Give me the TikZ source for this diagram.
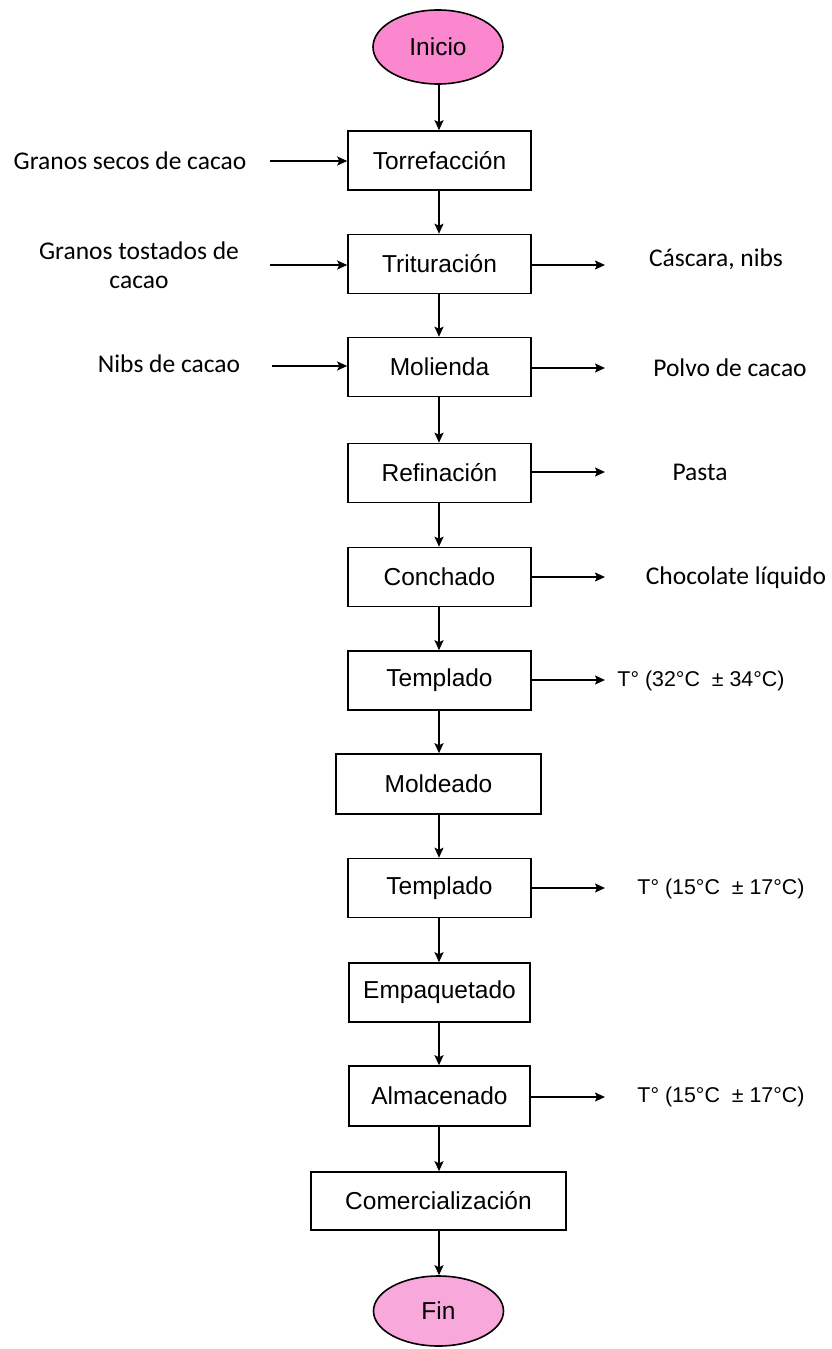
\documentclass[tikz,border=0pt]{standalone}
\usepackage{fontspec}
\setmainfont{Liberation Sans}
\newfontfamily\notefont{Carlito}
\usetikzlibrary{shapes.geometric,arrows.meta}
\definecolor{startpink}{RGB}{251,136,206}
\definecolor{endpink}{RGB}{249,168,220}
\tikzset{
  stepbox/.style={draw, line width=1.6pt, minimum width=183pt, minimum height=59pt,
    inner sep=0pt, font=\fontsize{24.5}{28}\selectfont},
  terminal/.style={ellipse, draw, line width=1.6pt, minimum width=130pt, minimum height=74pt,
    inner sep=0pt, font=\fontsize{24.5}{28}\selectfont},
  note/.style={inner sep=0pt, align=center, font=\notefont\fontsize{25.5}{29}\selectfont},
  temp/.style={inner sep=0pt, font=\fontsize{21.4}{25}\selectfont},
  flow/.style={line width=1.6pt, -{Stealth[length=10pt,width=9pt,inset=2pt]}}
}
\begin{document}
\begin{tikzpicture}[x=1pt,y=-1pt]
  \useasboundingbox (0,0) rectangle (832,1349);

  % main process chain
  \node[terminal, fill=startpink] (ini) at (438,47) {Inicio};
  \node[stepbox] (torr) at (439.5,160.5) {Torrefacción};
  \node[stepbox] (trit) at (439.5,264) {Trituración};
  \node[stepbox] (mol)  at (439.5,367) {Molienda};
  \node[stepbox] (ref)  at (439.5,473) {Refinación};
  \node[stepbox] (con)  at (439.5,577) {Conchado};
  \node[stepbox] (tem1) at (439.5,680.5) {Templado};
  \node[stepbox, minimum width=205pt, minimum height=60pt] (mold) at (438.5,784) {Moldeado};
  \node[stepbox] (tem2) at (439.5,888) {Templado};
  \node[stepbox, minimum width=181pt] (emp) at (439.5,992.5) {Empaquetado};
  \node[stepbox, minimum width=181pt, minimum height=60pt] (alm) at (439.5,1096) {Almacenado};
  \node[stepbox, minimum width=255pt, minimum height=58pt] (com) at (438.5,1201) {Comercialización};
  \node[terminal, fill=endpink, minimum height=70pt] (fin) at (438.5,1311) {Fin};

  \foreach \a/\b in {ini/torr, torr/trit, trit/mol, mol/ref, ref/con, con/tem1,
                     tem1/mold, mold/tem2, tem2/emp, emp/alm, alm/com, com/fin}
    \draw[flow] (\a.south -| 439,0) -- (\b.north -| 439,0);

  % inputs on the left
  \node[note] (in1) at (130,161) {Granos secos de cacao};
  \node[note] (in2) at (139,265) {Granos tostados de\\cacao};
  \node[note] (in3) at (169,364) {Nibs de cacao};
  \coordinate (a1) at (270,161);
  \coordinate (a2) at (270,265);
  \coordinate (a3) at (272,366);
  \draw[flow] (a1) -- (torr.west |- a1);
  \draw[flow] (a2) -- (trit.west |- a2);
  \draw[flow] (a3) -- (mol.west |- a3);

  % outputs on the right
  \coordinate (b1) at (605,265);
  \coordinate (b2) at (605,368);
  \coordinate (b3) at (605,472);
  \coordinate (b4) at (605,577);
  \coordinate (b5) at (605,680);
  \coordinate (b6) at (605,888);
  \coordinate (b7) at (605,1097);
  \draw[flow] (trit.east |- b1) -- (b1);
  \draw[flow] (mol.east |- b2) -- (b2);
  \draw[flow] (ref.east |- b3) -- (b3);
  \draw[flow] (con.east |- b4) -- (b4);
  \draw[flow] (tem1.east |- b5) -- (b5);
  \draw[flow] (tem2.east |- b6) -- (b6);
  \draw[flow] (alm.east |- b7) -- (b7);

  \node[note] (out1) at (716,259) {Cáscara, nibs};
  \node[note] (out2) at (730,368) {Polvo de cacao};
  \node[note] (out3) at (700,472) {Pasta};
  \node[note] (out4) at (736,578) {Chocolate líquido};
  \node[temp] (out5) at (701,681) {T° (32°C \ ± 34°C)};
  \node[temp] (out6) at (721,889) {T° (15°C \ ± 17°C)};
  \node[temp] (out7) at (721,1097) {T° (15°C \ ± 17°C)};
\end{tikzpicture}
\end{document}
